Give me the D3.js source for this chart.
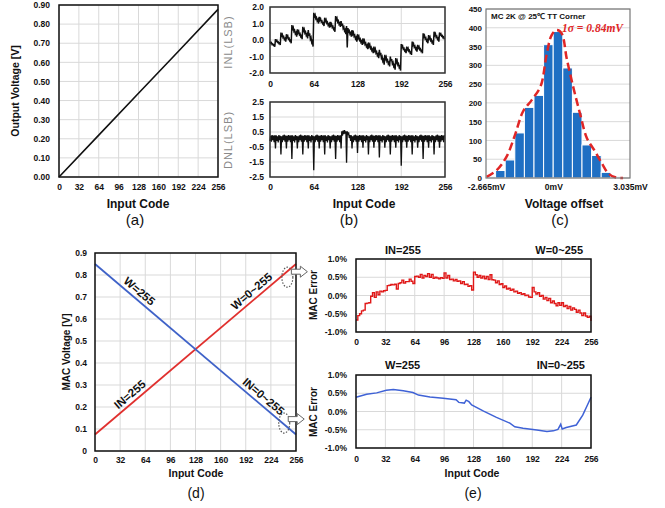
<!DOCTYPE html>
<html>
<head>
<meta charset="utf-8">
<script src="https://cdn.jsdelivr.net/npm/d3@7"></script>
<style>body{margin:0;background:#fff}</style>
</head>
<body>
<script>
// ---------- data ----------
// (a) DAC transfer
const aCodes = [0, 64, 128, 192, 256];
const aVolts = [0.0, 0.219, 0.438, 0.657, 0.877];
const aXTicks = [0, 32, 64, 96, 128, 160, 192, 224, 256];
const aYTicks = [0, 0.1, 0.2, 0.3, 0.4, 0.5, 0.6, 0.7, 0.8, 0.9];

// (b) INL, 8 codes per row
const inlRows = [
  [-0.10,-0.20,-0.16,-0.27,-0.24,-0.33,-0.30,-0.40],
  [0.05,-0.07,-0.02,-0.14,-0.11,-0.21,-0.18,-0.30],
  [0.45,0.26,0.34,0.15,0.20,0.04,0.09,-0.10],
  [0.35,0.16,0.24,0.05,0.10,-0.06,-0.01,-0.20],
  [0.90,0.66,0.76,0.52,0.59,0.38,0.45,0.20],
  [0.65,0.44,0.53,0.32,0.38,0.20,0.26,0.05],
  [0.80,0.56,0.66,0.42,0.49,0.28,0.35,0.10],
  [0.60,0.25,0.40,0.05,0.15,-0.15,-0.05,-0.40],
  [1.65,1.42,1.52,1.29,1.36,1.16,1.23,1.00],
  [1.40,1.21,1.29,1.10,1.15,0.99,1.04,0.85],
  [1.35,1.14,1.23,1.02,1.08,0.90,0.96,0.75],
  [1.10,0.89,0.98,0.77,0.83,0.65,0.71,0.50],
  [1.45,1.22,1.32,1.09,1.16,0.96,1.03,0.80],
  [1.15,0.87,0.99,0.71,0.79,0.55,0.62,0.35],
  [0.85,-0.45,0.72,0.49,0.56,0.36,0.43,0.20],
  [0.60,0.36,0.46,0.22,0.29,0.08,0.15,-0.10],
  [0.35,0.12,0.22,-0.01,0.06,-0.14,-0.07,-0.30],
  [0.10,-0.13,-0.03,-0.26,-0.19,-0.39,-0.32,-0.55],
  [-0.15,-0.38,-0.28,-0.51,-0.44,-0.64,-0.57,-0.80],
  [-0.40,-0.65,-0.54,-0.79,-0.72,-0.93,-0.86,-1.10],
  [-0.60,-0.92,-0.78,-1.10,-1.01,-1.28,-1.19,-1.50],
  [-0.90,-1.15,-1.04,-1.29,-1.22,-1.43,-1.36,-1.60],
  [-1.00,-1.28,-1.16,-1.44,-1.36,-1.60,-1.52,-1.80],
  [-1.10,-1.36,-1.25,-1.51,-1.44,-1.66,-1.59,-1.85],
  [-0.25,-0.44,-0.36,-0.55,-0.50,-0.66,-0.61,-0.80],
  [-0.40,-0.58,-0.50,-0.68,-0.63,-0.78,-0.73,-0.90],
  [-0.10,-0.31,-0.22,-0.43,-0.37,-0.55,-0.49,-0.70],
  [-0.30,-0.48,-0.40,-0.58,-0.53,-0.68,-0.63,-0.80],
  [0.40,0.19,0.28,0.07,0.13,-0.05,0.01,-0.20],
  [0.30,0.09,0.18,-0.03,0.03,-0.15,-0.09,-0.30],
  [0.50,0.29,0.38,0.17,0.23,0.05,0.11,-0.10],
  [0.45,0.31,0.37,0.23,0.27,0.15,0.19,0.05]
];
// (b) DNL, 8 codes per row
const dnlRows = [
  [-0.10,0.25,-0.15,0.30,-0.05,0.26,-0.18,0.28],
  [-0.60,0.28,-0.10,0.22,-0.20,0.30,-0.05,0.25],
  [-1.00,0.22,-0.18,0.28,-0.05,0.32,-0.14,0.26],
  [-0.60,0.25,-0.15,0.30,-0.05,0.26,-0.18,0.28],
  [-1.30,0.28,-0.10,0.22,-0.20,0.30,-0.05,0.25],
  [-0.60,0.22,-0.18,0.28,-0.05,0.32,-0.14,0.26],
  [-1.00,0.25,-0.15,0.30,-0.05,0.26,-0.18,0.28],
  [-0.60,0.28,-0.10,0.22,-0.20,0.30,-0.05,0.25],
  [-2.05,0.22,-0.18,0.28,-0.05,0.32,-0.14,0.26],
  [-0.60,0.25,-0.15,0.30,-0.05,0.26,-0.18,0.28],
  [-1.00,0.28,-0.10,0.22,-0.20,0.30,-0.05,0.25],
  [-0.60,0.22,-0.18,0.28,-0.05,0.32,-0.14,0.26],
  [-1.30,0.25,-0.15,0.30,-0.05,0.26,-0.18,0.28],
  [-0.60,0.55,0.25,0.60,0.35,0.62,0.40,0.55],
  [-1.55,0.55,0.30,0.48,0.10,0.30,-0.10,0.28],
  [-0.60,0.22,-0.18,0.28,-0.05,0.32,-0.14,0.26],
  [-0.90,0.25,-0.15,0.30,-0.05,0.26,-0.18,0.28],
  [-0.55,0.28,-0.10,0.22,-0.20,0.30,-0.05,0.25],
  [-1.00,0.22,-0.18,0.28,-0.05,0.32,-0.14,0.26],
  [-0.55,0.25,-0.15,0.30,-0.05,0.26,-0.18,0.28],
  [-1.20,0.28,-0.10,0.22,-0.20,0.30,-0.05,0.25],
  [-0.55,0.22,-0.18,0.28,-0.05,0.32,-0.14,0.26],
  [-1.00,0.25,-0.15,0.30,-0.05,0.26,-0.18,0.28],
  [-0.55,0.28,-0.10,0.22,-0.20,0.30,-0.05,0.25],
  [-1.75,0.22,-0.18,0.28,-0.05,0.32,-0.14,0.26],
  [-0.55,0.25,-0.15,0.30,-0.05,0.26,-0.18,0.28],
  [-1.00,0.28,-0.10,0.22,-0.20,0.30,-0.05,0.25],
  [-0.55,0.22,-0.18,0.28,-0.05,0.32,-0.14,0.26],
  [-1.30,0.25,-0.15,0.30,-0.05,0.26,-0.18,0.28],
  [-0.55,0.28,-0.10,0.22,-0.20,0.30,-0.05,0.25],
  [-1.00,0.22,-0.18,0.28,-0.05,0.32,-0.14,0.26],
  [-0.55,0.25,-0.15,0.30,-0.05,0.26,-0.18,0.28]
];
const bXTicks = [0, 64, 128, 192, 256];
const inlTicks = [-2, -1, 0, 1, 2];
const dnlTicks = [-2.5, -1.5, -0.5, 0.5, 1.5, 2.5];

// (c) Monte Carlo histogram
const binEdges = [-2.665,-2.285,-1.905,-1.525,-1.145,-0.765,-0.385,-0.005,0.375,0.755,1.135,1.515,1.895,2.275,2.655,3.035];
const binCounts = [3, 20, 48, 120, 188, 220, 355, 390, 293, 175, 88, 60, 15, 3, 0];
const fitX = [-2.64,-2.24,-1.85,-1.52,-1.2,-0.85,-0.5,-0.27,-0.07,0.13,0.33,0.53,0.8,1.07,1.33,1.66,1.92,2.18,2.45,2.76];
const fitY = [3, 21, 57, 114, 177, 208, 245, 327, 380, 394, 385, 318, 239, 168, 106, 70, 39, 12, 2, 0];
const cYTicks = [0, 50, 100, 150, 200, 250, 300, 350, 400, 450];
const cXTicks = [-2.665, 0, 3.035];
const cXLabels = ["-2.665mV", "0mV", "3.035mV"];

// (d) MAC voltage
const dCodes = [0, 256];
const inFixed = [0.075, 0.85];   // IN=255, W=0~255
const wFixed = [0.85, 0.075];    // W=255, IN=0~255
const dXTicks = [0, 32, 64, 96, 128, 160, 192, 224, 256];
const dYTicks = [0, 0.1, 0.2, 0.3, 0.4, 0.5, 0.6, 0.7, 0.8, 0.9];

// (e) MAC error
const errRedCodes = [0,2,4,6,8,10,12,14,16,18,20,22,24,26,28,30,32,34,36,38,40,42,44,46,48,50,52,54,56,58,60,62,64,66,68,70,72,74,76,78,80,82,84,86,88,90,92,94,96,98,100,102,104,106,108,110,112,114,116,118,120,122,124,126,128,130,132,134,136,138,140,142,144,146,148,150,152,154,156,158,160,162,164,166,168,170,172,174,176,178,180,182,184,186,188,190,192,194,196,198,200,202,204,206,208,210,212,214,216,218,220,222,224,226,228,230,232,234,236,238,240,242,244,246,248,250,252,254,256];
const errRed = [-0.67,-0.55,-0.50,-0.42,-0.40,-0.22,-0.21,-0.20,-0.02,0.08,-0.05,0.10,0.02,0.12,0.10,0.13,0.14,0.27,0.28,0.30,0.29,0.31,0.18,0.33,0.35,0.42,0.34,0.38,0.38,0.45,0.39,0.33,0.52,0.53,0.50,0.58,0.48,0.55,0.52,0.60,0.50,0.58,0.47,0.50,0.48,0.46,0.49,0.47,0.62,0.48,0.55,0.44,0.45,0.40,0.44,0.39,0.40,0.33,0.38,0.30,0.31,0.25,0.27,0.15,0.64,0.57,0.50,0.55,0.48,0.53,0.46,0.52,0.44,0.57,0.43,0.42,0.35,0.40,0.30,0.32,0.22,0.26,0.18,0.20,0.14,0.17,0.10,0.12,0.06,0.08,0.03,0.05,0.00,0.01,-0.04,-0.05,0.22,0.10,0.04,0.08,-0.02,0.00,-0.10,-0.05,-0.14,-0.08,-0.20,-0.15,-0.22,-0.28,-0.20,-0.27,-0.20,-0.30,-0.27,-0.36,-0.30,-0.40,-0.34,-0.38,-0.46,-0.40,-0.48,-0.55,-0.48,-0.56,-0.60,-0.57,-0.70];
const errBlueCodes = [0, 11.6, 22.5, 33, 40.7, 51.5, 62, 68, 80.6, 95, 109, 112, 118, 120, 123, 126, 139, 153, 167.6, 173, 182, 197, 208, 215, 220, 223, 224.6, 229, 240, 247, 252.5, 256];
const errBlue = [0.39, 0.47, 0.51, 0.58, 0.60, 0.57, 0.52, 0.45, 0.40, 0.36, 0.32, 0.25, 0.23, 0.31, 0.27, 0.18, 0.01, -0.16, -0.32, -0.42, -0.46, -0.51, -0.55, -0.53, -0.49, -0.35, -0.48, -0.44, -0.37, -0.10, 0.20, 0.39];
const eXTicks = [0, 32, 64, 96, 128, 160, 192, 224, 256];
const eYTicks = [-1, -0.5, 0, 0.5, 1];

// ---------- drawing ----------
const FONT = "'Liberation Sans', Arial, sans-serif";
const svg = d3.select("body").append("svg")
    .attr("width", 665).attr("height", 508)
    .style("background", "#fff");

function grid(xs, ys, xg, yg) {
    const g = svg.append("g");
    const [y0, y1] = ys.range();
    const [x0, x1] = xs.range();
    g.selectAll("line.v").data(xg).join("line").attr("class", "v")
        .attr("x1", d => xs(d)).attr("x2", d => xs(d)).attr("y1", y0).attr("y2", y1)
        .attr("stroke", "#d9d9d9").attr("stroke-width", 1);
    g.selectAll("line.h").data(yg).join("line").attr("class", "h")
        .attr("x1", x0).attr("x2", x1).attr("y1", d => ys(d)).attr("y2", d => ys(d))
        .attr("stroke", "#d9d9d9").attr("stroke-width", 1);
}

function border(xs, ys, color, w) {
    svg.append("rect")
        .attr("x", xs.range()[0]).attr("y", ys.range()[1])
        .attr("width", xs.range()[1] - xs.range()[0])
        .attr("height", ys.range()[0] - ys.range()[1])
        .attr("fill", "none").attr("stroke", color).attr("stroke-width", w);
}

function axisX(xs, ys, ticks, fmt, size, pad) {
    const g = svg.append("g")
        .attr("transform", `translate(0,${ys.range()[0]})`)
        .call(d3.axisBottom(xs).tickValues(ticks).tickFormat(fmt).tickSize(0).tickPadding(pad));
    g.select(".domain").remove();
    g.attr("font-family", FONT).attr("font-size", size).attr("font-weight", "bold");
    g.selectAll("text").attr("fill", "#111");
    return g;
}

function axisY(xs, ys, ticks, fmt, size, pad) {
    const g = svg.append("g")
        .attr("transform", `translate(${xs.range()[0]},0)`)
        .call(d3.axisLeft(ys).tickValues(ticks).tickFormat(fmt).tickSize(0).tickPadding(pad));
    g.select(".domain").remove();
    g.attr("font-family", FONT).attr("font-size", size).attr("font-weight", "bold");
    g.selectAll("text").attr("fill", "#111");
    return g;
}

function text(x, y, str, size, opts = {}) {
    const t = svg.append("text")
        .attr("x", x).attr("y", y)
        .attr("font-family", opts.family || FONT)
        .attr("font-size", size)
        .attr("font-weight", opts.weight || "bold")
        .attr("text-anchor", opts.anchor || "middle")
        .attr("fill", opts.fill || "#111")
        .text(str);
    if (opts.rotate) t.attr("transform", `rotate(${opts.rotate},${x},${y})`);
    if (opts.style) t.attr("font-style", opts.style);
    if (opts.spacing) t.attr("letter-spacing", opts.spacing);
    return t;
}

const fix = n => d => d.toFixed(n);

// ----- (a) -----
const xA = d3.scaleLinear().domain([0, 256]).range([59, 218]);
const yA = d3.scaleLinear().domain([0, 0.9]).range([177, 5]);
grid(xA, yA, aXTicks, aYTicks);
svg.append("path")
    .datum(aCodes.map((c, i) => [c, aVolts[i]]))
    .attr("d", d3.line().x(d => xA(d[0])).y(d => yA(d[1])))
    .attr("fill", "none").attr("stroke", "#111").attr("stroke-width", 1.6);
border(xA, yA, "#111", 1.5);
axisX(xA, yA, aXTicks, d => d, 8.5, 7);
axisY(xA, yA, aYTicks, fix(2), 8.5, 9);
text(19, 91, "Output Voltage [V]", 10.5, { rotate: -90 });
text(138, 208, "Input Code", 12);
text(135, 225, "(a)", 15, { weight: "normal" });

// ----- (b) -----
const xB = d3.scaleLinear().domain([0, 256]).range([270, 445]);
const yInl = d3.scaleLinear().domain([-2, 2]).range([73, 7]);
const yDnl = d3.scaleLinear().domain([-2.5, 2.5]).range([177, 102]);
const inl = inlRows.flat();
const dnl = dnlRows.flat();

grid(xB, yInl, bXTicks, inlTicks);
svg.append("path").datum(inl)
    .attr("d", d3.line().x((d, i) => xB(i)).y(d => yInl(d)))
    .attr("fill", "none").attr("stroke", "#111").attr("stroke-width", 1.5);
border(xB, yInl, "#333", 1.5);
axisX(xB, yInl, bXTicks, d => d, 8.5, 8);
axisY(xB, yInl, inlTicks, fix(1), 8.5, 6);
text(232, 42, "INL(LSB)", 11, { rotate: -90, weight: "normal", fill: "#8a8a8a", spacing: 1 });

grid(xB, yDnl, bXTicks, dnlTicks);
svg.append("path").datum(dnl)
    .attr("d", d3.line().x((d, i) => xB(i)).y(d => yDnl(d)))
    .attr("fill", "none").attr("stroke", "#111").attr("stroke-width", 1.3);
border(xB, yDnl, "#333", 1.5);
axisX(xB, yDnl, bXTicks, d => d, 8.5, 7);
axisY(xB, yDnl, dnlTicks, fix(1), 8.5, 6);
text(232, 140, "DNL(LSB)", 11, { rotate: -90, weight: "normal", fill: "#8a8a8a", spacing: 1 });
text(364, 208, "Input Code", 12);
text(349, 225, "(b)", 15, { weight: "normal" });

// ----- (c) -----
const xC = d3.scaleLinear().domain([-2.665, 3.035]).range([486, 630]);
const yC = d3.scaleLinear().domain([0, 450]).range([178, 9]);
grid(xC, yC, [], cYTicks);
svg.append("g").selectAll("rect").data(binCounts).join("rect")
    .attr("x", (d, i) => xC(binEdges[i]))
    .attr("width", (d, i) => xC(binEdges[i + 1]) - xC(binEdges[i]))
    .attr("y", d => yC(d))
    .attr("height", d => yC(0) - yC(d))
    .attr("fill", "#1f6fc3").attr("stroke", "#fff").attr("stroke-width", 1);
svg.append("path")
    .datum(fitX.map((x, i) => [x, fitY[i]]))
    .attr("d", d3.line().x(d => xC(d[0])).y(d => yC(d[1])).curve(d3.curveCatmullRom))
    .attr("fill", "none").attr("stroke", "#e02626").attr("stroke-width", 2.5)
    .attr("stroke-dasharray", "8,4");
border(xC, yC, "#777", 1.2);
axisY(xC, yC, cYTicks, d => d, 8, 4);
axisX(xC, yC, cXTicks, (d, i) => cXLabels[i], 8.5, 6);
text(491, 19, "MC 2K @ 25\u2103 TT Corner", 8, { anchor: "start" });
text(562, 32, "1\u03c3 = 0.84mV", 11.5, { anchor: "start", family: "'Liberation Serif', serif", style: "italic", fill: "#e02626" });
text(564, 208, "Voltage offset", 12);
text(560, 225, "(c)", 15, { weight: "normal" });

// ----- (d) -----
const xD = d3.scaleLinear().domain([0, 256]).range([95, 296]);
const yD = d3.scaleLinear().domain([0, 0.9]).range([451, 253]);
grid(xD, yD, dXTicks, dYTicks);
const lineD = d3.line().x(d => xD(d[0])).y(d => yD(d[1]));
svg.append("path").datum(dCodes.map((c, i) => [c, inFixed[i]]))
    .attr("d", lineD).attr("fill", "none").attr("stroke", "#e0302e").attr("stroke-width", 1.8);
svg.append("path").datum(dCodes.map((c, i) => [c, wFixed[i]]))
    .attr("d", lineD).attr("fill", "none").attr("stroke", "#3f62c8").attr("stroke-width", 1.8);
border(xD, yD, "#111", 1.5);
axisX(xD, yD, dXTicks, d => d, 8.5, 6);
axisY(xD, yD, dYTicks, d => d === 0 ? "0" : d.toFixed(1), 8.5, 8);
text(70, 352, "MAC Voltage [V]", 10, { rotate: -90 });
text(196, 477, "Input Code", 10.5);
text(196, 498, "(d)", 14, { weight: "normal" });

// rotated labels along the lines (positive angle = descending line)
const ang = Math.atan2(yD(wFixed[1]) - yD(wFixed[0]), xD(256) - xD(0)) * 180 / Math.PI;
function slopeLabel(code, val, str, a) {
    svg.append("text")
        .attr("transform", `translate(${xD(code)},${yD(val)}) rotate(${a})`)
        .attr("y", -4)
        .attr("text-anchor", "middle")
        .attr("font-family", FONT).attr("font-size", 11.5).attr("font-weight", "bold")
        .attr("fill", "#111").text(str);
}
const lerp = (arr, c) => arr[0] + (arr[1] - arr[0]) * c / 256;
slopeLabel(50, lerp(wFixed, 50), "W=255", ang);
slopeLabel(206, lerp(inFixed, 206), "W=0~255", -ang);
slopeLabel(51, lerp(inFixed, 51), "IN=255", -ang);
slopeLabel(208, lerp(wFixed, 208), "IN=0~255", ang);

// dotted ellipses and hollow arrows
function callout(cx, cy, ay) {
    svg.append("ellipse").attr("cx", cx).attr("cy", cy).attr("rx", 5.5).attr("ry", 10)
        .attr("fill", "none").attr("stroke", "#555").attr("stroke-width", 1.2)
        .attr("stroke-dasharray", "1.5,1.5");
    const x0 = cx + 4;
    const pts = [[x0, ay - 2.5], [x0 + 9, ay - 2.5], [x0 + 9, ay - 5.5], [x0 + 16, ay],
                 [x0 + 9, ay + 5.5], [x0 + 9, ay + 2.5], [x0, ay + 2.5]];
    svg.append("path").attr("d", d3.line()(pts) + "Z")
        .attr("fill", "#fff").attr("stroke", "#666").attr("stroke-width", 1);
}
callout(xD(245), yD(0.79), yD(0.815));
callout(xD(241), yD(0.127), yD(0.145));

// ----- (e) -----
const xE = d3.scaleLinear().domain([0, 256]).range([356, 591]);
const yE1 = d3.scaleLinear().domain([-1, 1]).range([332, 259]);
const yE2 = d3.scaleLinear().domain([-1, 1]).range([448, 375]);
const pct = d => d.toFixed(1) + "%";

grid(xE, yE1, eXTicks, eYTicks);
svg.append("path").datum(errRedCodes.map((c, i) => [c, errRed[i]]))
    .attr("d", d3.line().x(d => xE(d[0])).y(d => yE1(d[1])).curve(d3.curveStepAfter))
    .attr("fill", "none").attr("stroke", "#e01818").attr("stroke-width", 1.4);
border(xE, yE1, "#111", 1.5);
axisX(xE, yE1, eXTicks, d => d, 8.5, 7);
axisY(xE, yE1, eYTicks, pct, 8.5, 9);
text(317, 295, "MAC Error", 10, { rotate: -90 });
text(385, 254, "IN=255", 11, { anchor: "start" });
text(583, 254, "W=0~255", 11, { anchor: "end" });

grid(xE, yE2, eXTicks, eYTicks);
svg.append("path").datum(errBlueCodes.map((c, i) => [c, errBlue[i]]))
    .attr("d", d3.line().x(d => xE(d[0])).y(d => yE2(d[1])))
    .attr("fill", "none").attr("stroke", "#3f62d6").attr("stroke-width", 1.5);
border(xE, yE2, "#111", 1.5);
axisX(xE, yE2, eXTicks, d => d, 8.5, 8);
axisY(xE, yE2, eYTicks, pct, 8.5, 9);
text(317, 412, "MAC Error", 10, { rotate: -90 });
text(385, 369, "W=255", 11, { anchor: "start" });
text(585, 369, "IN=0~255", 11, { anchor: "end" });
text(472, 477, "Input Code", 10.5);
text(473, 498, "(e)", 14, { weight: "normal" });
</script>
</body>
</html>
